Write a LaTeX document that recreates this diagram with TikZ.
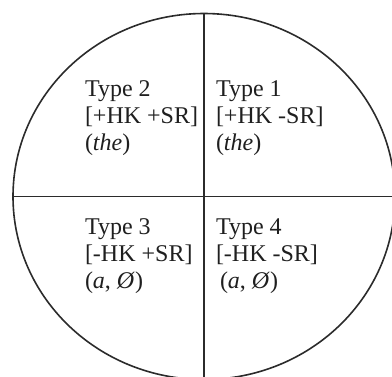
\documentclass[tikz,border=0pt]{standalone}
\usepackage{fontspec}
\setmainfont{Liberation Serif}
\definecolor{qLine}{HTML}{2B2B2B}
\definecolor{qText}{HTML}{1F1F1F}
\usetikzlibrary{shapes.geometric}
\tikzset{
  qcell/.style={anchor=north west, inner sep=0pt, outer sep=0pt, align=left, text=qText,
    font=\fontsize{24}{27}\selectfont},
  qrule/.style={draw=qLine, line width=1.6pt}
}
\newcommand{\qcell}[4]{%
 \node[qcell] (#2) at (#1) {#3\\{}#4};%
}

\begin{document}
\begin{tikzpicture}[x=1pt,y=-1pt]
\useasboundingbox (0,0) rectangle (392,376);
\clip (0,0) rectangle (392,376);
\node[qrule, ellipse, inner sep=0pt, outer sep=0pt, minimum width=382pt, minimum height=366pt] (disc) at (204,196.5) {};
\draw[qrule] (disc.north) -- (disc.south);
\draw[qrule] (disc.west) -- (disc.east);
\qcell{85,81}{t2}{Type 2}{[+HK +SR]\\(\textit{the})}
\qcell{216,81}{t1}{Type 1}{[+HK -SR]\\(\textit{the})}
\qcell{85,219}{t3}{Type 3}{[-HK +SR]\\(\textit{a}, \textit{Ø})}
\qcell{216,219}{t4}{Type 4}{[-HK -SR]\\\hspace{4pt}(\textit{a}, \textit{Ø})}
\end{tikzpicture}
\end{document}
